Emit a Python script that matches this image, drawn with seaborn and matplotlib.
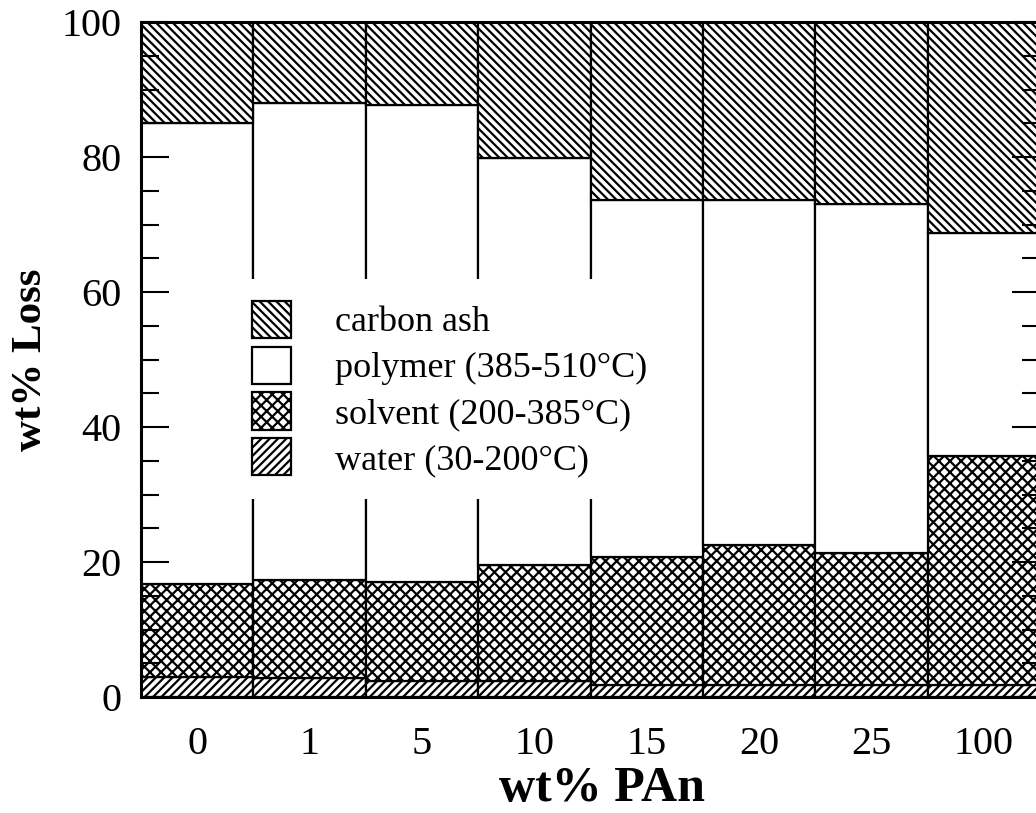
import matplotlib
matplotlib.use("Agg")
import matplotlib.pyplot as plt
from matplotlib.patches import Patch
from matplotlib.ticker import MultipleLocator
import numpy as np
import seaborn as sns

# ---- data ----
categories = ["0", "1", "5", "10", "15", "20", "25", "100"]
water = [2.9, 2.8, 2.3, 2.3, 1.8, 1.8, 1.8, 1.8]
solvent = [13.9, 14.5, 14.8, 17.3, 19.0, 20.7, 19.5, 33.9]
polymer = [68.2, 70.7, 70.6, 60.3, 52.8, 51.1, 51.8, 33.0]
carbon_ash = [15.0, 12.0, 12.3, 20.1, 26.4, 26.4, 26.9, 31.3]
series_labels = ["water (30-200°C)", "solvent (200-385°C)",
                 "polymer (385-510°C)", "carbon ash"]
yticks = [0, 20, 40, 60, 80, 100]

sns.set_theme(style="white")
plt.rcParams["font.family"] = ["Liberation Serif", "DejaVu Serif"]
plt.rcParams["hatch.linewidth"] = 1.6
plt.rcParams["hatch.color"] = "black"
plt.rcParams["text.color"] = "black"
plt.rcParams["axes.labelcolor"] = "black"
plt.rcParams["xtick.color"] = "black"
plt.rcParams["ytick.color"] = "black"

fig = plt.figure(figsize=(10.36, 8.13), dpi=100)
ax = fig.add_axes([141 / 1036, (813 - 697) / 813, 899 / 1036, 675 / 813])

series = [water, solvent, polymer, carbon_ash]
hatches = ["////", "xxx", "", "\\\\\\\\"]
bottom = np.zeros(len(categories))
for vals, hatch, lab in zip(series, hatches, series_labels):
    sns.barplot(x=categories, y=vals, bottom=bottom, width=1.0, color="white",
                saturation=1, edgecolor="black", linewidth=1.6, hatch=hatch,
                order=categories, ax=ax)
    bottom = bottom + np.array(vals)

ax.set_xlim(-0.5, 7.5)
ax.set_ylim(0, 100)
ax.set_yticks(yticks)
ax.yaxis.set_minor_locator(MultipleLocator(5))
ax.set_axisbelow(False)
for sp in ax.spines.values():
    sp.set_visible(True)
    sp.set_color("black")
    sp.set_linewidth(2.2)

ax.tick_params(axis="y", which="both", direction="in", left=True, right=True,
               labelright=False, colors="black", labelsize=29, pad=14)
ax.tick_params(axis="y", which="major", length=20, width=1.5)
ax.tick_params(axis="y", which="minor", length=13, width=1.5)
ax.tick_params(axis="x", which="both", length=0, labelsize=29, pad=21,
               labelcolor="black")

ax.set_xlabel("wt% PAn", fontsize=36, fontweight="bold", color="black")
ax.xaxis.set_label_coords((602 - 141) / 899, -0.102)
ax.set_ylabel("wt% Loss", fontsize=31, fontweight="bold", labelpad=8,
              color="black")

# legend (top entry first)
handles = [Patch(facecolor="white", edgecolor="black", hatch=h, linewidth=1.6)
           for h in hatches[::-1]]
leg = ax.legend(handles, series_labels[::-1], loc="upper left",
                bbox_to_anchor=(230 / 1036, 1 - 279 / 813),
                bbox_transform=fig.transFigure, fontsize=26, frameon=True,
                facecolor="white", edgecolor="none", framealpha=1,
                fancybox=False, borderpad=0.6, borderaxespad=0,
                handlelength=1.1, handleheight=1.2, labelspacing=0.2,
                handletextpad=1.2, labelcolor="black")

fig.savefig("out.png", dpi=100)
